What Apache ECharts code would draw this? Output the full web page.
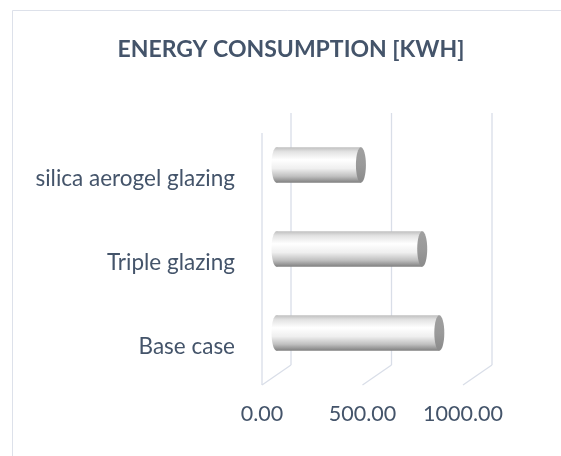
<!DOCTYPE html>
<html>
<head>
<meta charset="utf-8">
<script src="https://cdn.jsdelivr.net/npm/echarts@6/dist/echarts.min.js"></script>
<style>
  html, body { margin: 0; padding: 0; background: #ffffff; }
  #chart { width: 561px; height: 456px; }
</style>
</head>
<body>
<div id="chart"></div>
<script>
// Energy consumption per glazing option (kWh)
const categories = ['Base case', 'Triple glazing', 'silica aerogel glazing'];
const consumption = [810, 725, 420];
const tickValues = [0, 500, 1000];

const TEXT = '#44546a';
const GRID = '#d9dee8';
const FONT = 'Lato';
// oblique depth of the 3D plot box (back wall offset from the front plane)
const DEPTH_X = 29, DEPTH_Y = -20;

const chart = echarts.init(document.getElementById('chart'), null, { renderer: 'canvas' });

function frameItem(params, api) {
  const cs = params.coordSys;
  const tick = api.value(0);
  const front = api.coord([tick, categories[0]]);
  const fx = front[0];
  const bottom = cs.y + cs.height;
  const top = cs.y;
  const children = [
    // back wall gridline
    { type: 'line', shape: { x1: fx + DEPTH_X, y1: top + DEPTH_Y, x2: fx + DEPTH_X, y2: bottom + DEPTH_Y },
      style: { stroke: GRID, lineWidth: 1.3 } },
    // floor line running to the front edge
    { type: 'line', shape: { x1: fx + DEPTH_X, y1: bottom + DEPTH_Y, x2: fx, y2: bottom },
      style: { stroke: GRID, lineWidth: 1.3 } }
  ];
  if (params.dataIndex === 0) {
    // front edge of the side wall
    children.push({ type: 'line', shape: { x1: fx, y1: top, x2: fx, y2: bottom },
      style: { stroke: GRID, lineWidth: 1.3 } });
  }
  return { type: 'group', children };
}

function cylinderItem(params, api) {
  const cat = api.value(1);
  const start = api.coord([0, cat]);
  const end = api.coord([api.value(0), cat]);
  const band = api.size([0, 1])[1];
  const r = band * 0.21;
  const x0 = start[0] + DEPTH_X / 2;
  const x1 = end[0] + DEPTH_X / 2;
  const cy = start[1] + DEPTH_Y / 2;
  const rx = 5;
  const body = new echarts.graphic.LinearGradient(0, 0, 0, 1, [
    { offset: 0, color: '#c0c0c0' },
    { offset: 0.12, color: '#e2e2e2' },
    { offset: 0.35, color: '#ffffff' },
    { offset: 0.6, color: '#efefef' },
    { offset: 0.82, color: '#c0c0c0' },
    { offset: 1, color: '#808080' }
  ]);
  const cap = new echarts.graphic.LinearGradient(0, 0, 0, 1, [
    { offset: 0, color: '#a0a0a0' },
    { offset: 0.5, color: '#9a9a9a' },
    { offset: 1, color: '#8a8a8a' }
  ]);
  return {
    type: 'group',
    children: [
      { type: 'ellipse', shape: { cx: x0, cy: cy, rx: rx, ry: r }, style: { fill: body } },
      { type: 'rect', shape: { x: x0, y: cy - r, width: x1 - x0, height: 2 * r }, style: { fill: body } },
      { type: 'ellipse', shape: { cx: x1, cy: cy, rx: rx, ry: r }, style: { fill: cap } }
    ]
  };
}

chart.setOption({
  backgroundColor: '#ffffff',
  animation: false,
  title: {
    text: 'ENERGY CONSUMPTION [KWH]',
    left: 286,
    top: 33,
    textAlign: 'center',
    textStyle: { color: TEXT, fontFamily: FONT, fontWeight: 'bold', fontSize: 23 }
  },
  graphic: [
    { type: 'rect', shape: { x: 12.5, y: 10.5, width: 600, height: 500 },
      style: { fill: null, stroke: '#dde1ea', lineWidth: 1 }, silent: true }
  ],
  grid: { left: 262, top: 133, width: 201, height: 252, containLabel: false },
  xAxis: {
    type: 'value',
    min: 0,
    max: 1000,
    interval: 500,
    axisLine: { show: false },
    axisTick: { show: false },
    splitLine: { show: false },
    axisLabel: {
      color: TEXT, fontFamily: FONT, fontSize: 21.5, margin: 18,
      formatter: v => v.toFixed(2)
    }
  },
  yAxis: {
    type: 'category',
    data: categories,
    axisLine: { show: false },
    axisTick: { show: false },
    splitLine: { show: false },
    axisLabel: {
      margin: 27,
      formatter: v => '{c|' + v + '}',
      rich: {
        c: { color: TEXT, fontFamily: FONT, fontSize: 22.5, padding: [7, 0, 0, 0] }
      }
    }
  },
  series: [
    {
      type: 'custom',
      name: 'frame',
      renderItem: frameItem,
      data: tickValues.map(v => [v]),
      encode: { x: 0 },
      silent: true,
      z: 1
    },
    {
      type: 'custom',
      name: 'Energy consumption',
      renderItem: cylinderItem,
      data: consumption.map((v, i) => [v, categories[i]]),
      encode: { x: 0, y: 1 },
      z: 2
    }
  ]
});
</script>
</body>
</html>
